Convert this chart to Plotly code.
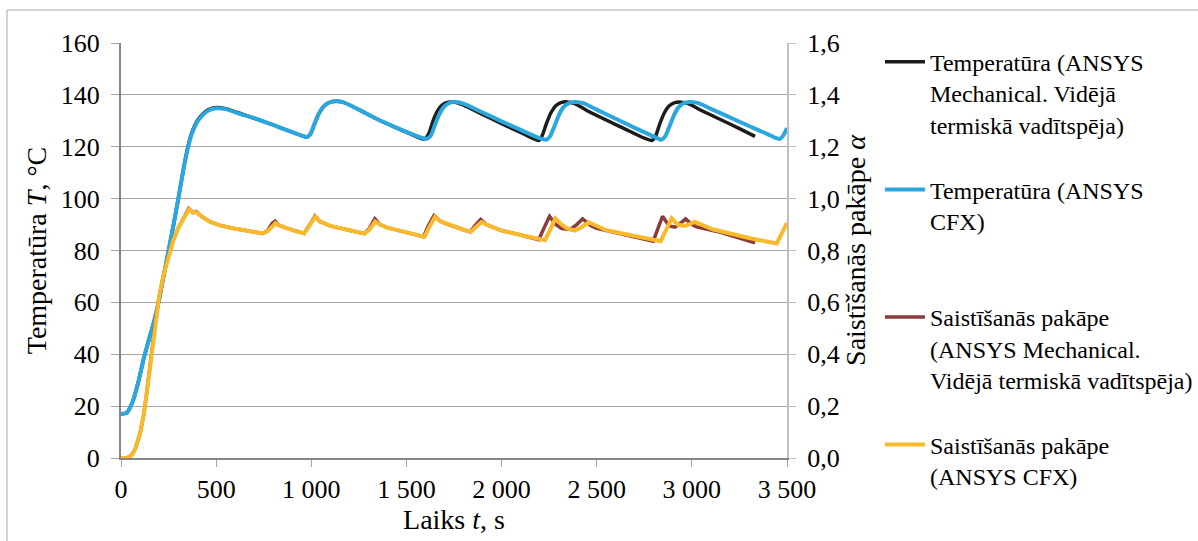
import plotly.graph_objects as go

# ---------------- data ----------------
# Temperature, ANSYS Mechanical (average thermal conductivity)
t_mech_T = [0, 30, 60, 90, 120, 150, 175, 200, 225, 250, 275, 300, 325, 350, 370, 400, 430, 460, 500, 550,
            620, 700, 800, 900, 950, 975, 995, 1015, 1040, 1070, 1100, 1130, 1170, 1250, 1350, 1450, 1550,
            1585, 1600, 1620, 1640, 1665, 1690, 1720, 1750, 1790, 1900, 2000, 2100, 2170, 2195, 2212, 2235,
            2260, 2285, 2315, 2345, 2385, 2450, 2550, 2650, 2750, 2790, 2808, 2830, 2855, 2880, 2910, 2945,
            2985, 3050, 3150, 3250, 3332]
T_mech = [17.0, 17.4, 21.5, 29.0, 38.5, 46.5, 53.0, 61.0, 70.5, 80.0, 89.5, 99.5, 110.0, 119.5, 125.0, 130.0,
          132.6, 134.3, 135.1, 134.7, 133.0, 131.0, 128.4, 125.6, 124.3, 123.7, 124.8, 128.5, 132.8, 135.9,
          137.2, 137.5, 137.1, 134.3, 130.5, 127.2, 124.0, 123.0, 123.2, 125.5, 130.0, 134.0, 136.2, 137.2,
          137.2, 136.3, 132.5, 128.9, 125.5, 123.0, 122.4, 124.0, 128.8, 133.2, 135.8, 137.1, 137.3, 136.6,
          133.9, 130.3, 126.8, 123.3, 122.4, 123.8, 128.5, 133.0, 135.7, 137.0, 137.2, 136.5, 134.0, 130.5,
          127.0, 124.0]

# Temperature, ANSYS CFX
t_cfx_T = [0, 30, 60, 90, 120, 150, 175, 200, 225, 250, 275, 300, 325, 350, 370, 400, 430, 460, 500, 550,
           620, 700, 800, 900, 950, 975, 995, 1015, 1040, 1070, 1100, 1130, 1170, 1250, 1350, 1450, 1550,
           1590, 1610, 1630, 1650, 1675, 1700, 1730, 1760, 1800, 1900, 2000, 2100, 2200, 2235, 2255, 2280,
           2305, 2330, 2360, 2390, 2430, 2500, 2600, 2700, 2800, 2840, 2860, 2885, 2910, 2935, 2965, 2995,
           3035, 3100, 3200, 3300, 3400, 3440, 3460, 3480, 3500]
T_cfx = [17.0, 17.4, 21.5, 29.0, 38.5, 46.5, 53.0, 61.0, 70.5, 80.0, 89.5, 99.5, 110.0, 119.0, 124.5, 129.5,
         132.3, 134.0, 134.8, 134.5, 132.8, 131.0, 128.4, 125.6, 124.3, 123.7, 124.8, 128.5, 132.8, 135.9,
         137.2, 137.5, 137.1, 134.3, 130.5, 127.3, 124.3, 123.3, 123.1, 124.6, 128.5, 132.8, 135.6, 137.0,
         137.3, 136.6, 133.2, 129.8, 126.5, 123.3, 122.7, 124.0, 128.3, 132.8, 135.6, 137.0, 137.3, 136.8,
         134.3, 130.8, 127.3, 123.9, 122.7, 124.0, 128.3, 132.8, 135.6, 137.0, 137.3, 136.8, 134.6, 131.3,
         128.0, 124.8, 123.4, 123.0, 124.3, 127.2]

# Degree of cure, ANSYS Mechanical
t_mech_a = [0, 30, 55, 75, 100, 120, 135, 150, 161, 180, 200, 225, 250, 275, 300, 325, 345, 356, 378, 396,
            410, 430, 470, 520, 600, 700, 745, 770, 795, 810, 830, 870, 920, 962, 990, 1020, 1045, 1100, 1200,
            1278, 1305, 1334, 1360, 1400, 1500, 1590, 1615, 1645, 1680, 1720, 1800, 1835, 1865, 1890, 1920,
            2000, 2100, 2195, 2225, 2252, 2285, 2316, 2360, 2395, 2426, 2470, 2500, 2650, 2797, 2822, 2846,
            2880, 2911, 2940, 2967, 3000, 3025, 3150, 3332]
a_mech = [0.0, 0.0, 0.01, 0.035, 0.094, 0.17, 0.25, 0.34, 0.415, 0.52, 0.62, 0.71, 0.78, 0.84, 0.885, 0.92,
          0.95, 0.962, 0.946, 0.95, 0.94, 0.928, 0.91, 0.897, 0.884, 0.873, 0.866, 0.876, 0.905, 0.913, 0.897,
          0.886, 0.874, 0.866, 0.897, 0.933, 0.912, 0.895, 0.878, 0.865, 0.885, 0.922, 0.9, 0.888, 0.87, 0.853,
          0.895, 0.935, 0.912, 0.9, 0.88, 0.872, 0.9, 0.92, 0.9, 0.877, 0.86, 0.842, 0.89, 0.932, 0.9, 0.885,
          0.881, 0.9, 0.922, 0.895, 0.885, 0.86, 0.836, 0.885, 0.932, 0.895, 0.89, 0.905, 0.922, 0.9, 0.891,
          0.87, 0.83]

# Degree of cure, ANSYS CFX
t_cfx_a = [0, 30, 55, 75, 100, 120, 135, 150, 161, 180, 200, 225, 250, 275, 300, 325, 345, 358, 378, 396,
           410, 430, 470, 520, 600, 700, 745, 770, 800, 812, 830, 870, 920, 962, 990, 1022, 1045, 1100, 1200,
           1280, 1305, 1336, 1360, 1400, 1500, 1595, 1620, 1650, 1680, 1720, 1800, 1838, 1870, 1895, 1920,
           2000, 2100, 2228, 2255, 2283, 2315, 2345, 2385, 2420, 2458, 2500, 2552, 2700, 2836, 2865, 2894,
           2925, 2964, 3016, 3060, 3113, 3300, 3446, 3500]
a_cfx = [0.0, 0.0, 0.01, 0.035, 0.094, 0.17, 0.25, 0.34, 0.415, 0.52, 0.62, 0.71, 0.78, 0.84, 0.885, 0.92,
         0.948, 0.96, 0.946, 0.948, 0.94, 0.928, 0.91, 0.897, 0.884, 0.873, 0.866, 0.874, 0.9, 0.906, 0.897,
         0.886, 0.874, 0.866, 0.895, 0.93, 0.912, 0.895, 0.878, 0.865, 0.88, 0.912, 0.9, 0.888, 0.87, 0.853,
         0.89, 0.93, 0.912, 0.9, 0.88, 0.872, 0.895, 0.91, 0.9, 0.877, 0.86, 0.84, 0.88, 0.924, 0.9, 0.885,
         0.877, 0.89, 0.909, 0.895, 0.878, 0.856, 0.836, 0.88, 0.924, 0.9, 0.895, 0.91, 0.895, 0.881, 0.848,
         0.827, 0.906]

x_tickvals = [0, 500, 1000, 1500, 2000, 2500, 3000, 3500]
x_ticktext = ["0", "500", "1 000", "1 500", "2 000", "2 500", "3 000", "3 500"]
y_tickvals = [0, 20, 40, 60, 80, 100, 120, 140, 160]
y2_tickvals = [0.0, 0.2, 0.4, 0.6, 0.8, 1.0, 1.2, 1.4, 1.6]
y2_ticktext = ["0,0", "0,2", "0,4", "0,6", "0,8", "1,0", "1,2", "1,4", "1,6"]

names = [
    "Temperatūra (ANSYS<br>Mechanical. Vidējā<br>termiskā vadītspēja)",
    "Temperatūra (ANSYS<br>CFX)<br>\u00a0",
    "Saistīšanās pakāpe<br>(ANSYS Mechanical.<br>Vidējā termiskā vadītspēja)",
    "Saistīšanās pakāpe<br>(ANSYS CFX)",
]
colors = ["#1c1c1c", "#2aa7df", "#8c3b3b", "#f8b92a"]

FONT = "Liberation Serif"

fig = go.Figure()
fig.add_trace(go.Scatter(x=t_mech_T, y=T_mech, mode="lines", name=names[0], legendgroup="g1",
                         line=dict(color=colors[0], width=3.5, shape="spline", smoothing=0.5)))
fig.add_trace(go.Scatter(x=t_cfx_T, y=T_cfx, mode="lines", name=names[1], legendgroup="g2",
                         line=dict(color=colors[1], width=4, shape="spline", smoothing=0.5)))
fig.add_trace(go.Scatter(x=t_mech_a, y=a_mech, mode="lines", name=names[2], legendgroup="g3", yaxis="y2",
                         line=dict(color=colors[2], width=3.5)))
fig.add_trace(go.Scatter(x=t_cfx_a, y=a_cfx, mode="lines", name=names[3], legendgroup="g4", yaxis="y2",
                         line=dict(color=colors[3], width=4)))

fig.update_layout(
    width=1198, height=541,
    margin=dict(l=121, r=411, t=43, b=83, autoexpand=False),
    paper_bgcolor="white", plot_bgcolor="white",
    font=dict(family=FONT, size=26, color="black"),
    showlegend=True,
    legend=dict(x=1.1396, xanchor="left", y=1.008, yanchor="top", valign="top",
                tracegroupgap=31, font=dict(family=FONT, size=24, color="black"),
                bgcolor="rgba(0,0,0,0)", itemwidth=40, maxheight=1.0),
    xaxis=dict(range=[0, 3500], tickvals=x_tickvals, ticktext=x_ticktext,
               showgrid=False, zeroline=False, showline=True, linecolor="#868686", linewidth=2,
               ticks="outside", ticklen=7, tickcolor="#a6a6a6", tickwidth=1,
               tickfont=dict(family=FONT, size=26),
               title=dict(text="Laiks <i>t</i>, s", font=dict(family=FONT, size=28), standoff=4)),
    yaxis=dict(range=[0, 160], tickvals=y_tickvals, showgrid=True, gridcolor="#a6a6a6", gridwidth=1,
               zeroline=False, showline=True, linecolor="#868686", linewidth=2,
               ticks="outside", ticklen=8, tickcolor="#a6a6a6", ticklabelstandoff=6,
               tickfont=dict(family=FONT, size=26),
               title=dict(text="Temperatūra <i>T</i>, °C", font=dict(family=FONT, size=28), standoff=6)),
    yaxis2=dict(range=[0, 1.6], tickvals=y2_tickvals, ticktext=y2_ticktext, overlaying="y", side="right",
                showgrid=False, zeroline=False, showline=True, linecolor="#c0c0c0", linewidth=2,
                ticks="outside", ticklen=7, tickcolor="#c0c0c0", ticklabelstandoff=6,
                tickfont=dict(family=FONT, size=26),
                title=dict(text="Saistīšanās pakāpe <i>α</i>", font=dict(family=FONT, size=28), standoff=6)),
    shapes=[dict(type="rect", xref="paper", yref="paper", x0=-0.1712, x1=1.64, y0=-0.25, y1=1.0795,
                 line=dict(color="#a6a6a6", width=1), fillcolor="rgba(0,0,0,0)", layer="below")],
)

fig.write_html("out.html")
